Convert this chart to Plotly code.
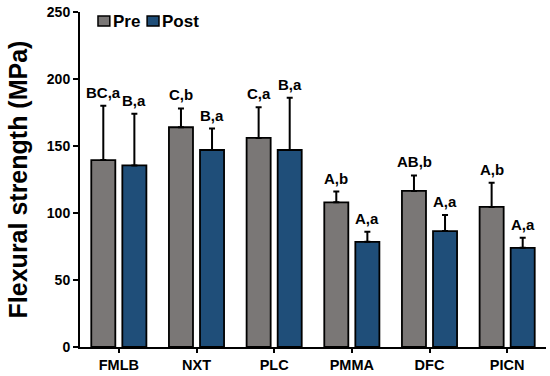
import plotly.graph_objects as go

categories = ["FMLB", "NXT", "PLC", "PMMA", "DFC", "PICN"]
pre_values = [139.5, 164, 156, 108, 116.5, 104.5]
pre_sd = [40.5, 14, 23, 8, 11.5, 18]
post_values = [135.5, 147, 147, 78.5, 86.5, 74]
post_sd = [38.5, 16, 39, 7.5, 12, 7.5]
pre_labels = ["BC,a", "C,b", "C,a", "A,b", "AB,b", "A,b"]
post_labels = ["B,a", "B,a", "B,a", "A,a", "A,a", "A,a"]
series_names = ["Pre", "Post"]
y_ticks = [0, 50, 100, 150, 200, 250]

PRE_COLOR = "#7a7776"
POST_COLOR = "#1f4e79"
FONT = "Liberation Sans, Arial, sans-serif"

fig = go.Figure()
fig.add_trace(go.Bar(
    name=series_names[0], x=categories, y=pre_values, showlegend=False,
    marker=dict(color=PRE_COLOR, line=dict(color="black", width=1.8)),
    error_y=dict(type="data", symmetric=False, array=pre_sd, arrayminus=[0]*len(pre_sd),
                 color="black", thickness=2, width=3),
))
fig.add_trace(go.Bar(
    name=series_names[1], x=categories, y=post_values, showlegend=False,
    marker=dict(color=POST_COLOR, line=dict(color="black", width=1.8)),
    error_y=dict(type="data", symmetric=False, array=post_sd, arrayminus=[0]*len(post_sd),
                 color="black", thickness=2, width=3),
))

for i, c in enumerate(categories):
    fig.add_annotation(x=c, y=pre_values[i] + pre_sd[i], text=pre_labels[i], showarrow=False,
                       xshift=-15.5, yshift=3, yanchor="bottom",
                       font=dict(family=FONT, size=15, color="black", weight="bold"))
    fig.add_annotation(x=c, y=post_values[i] + post_sd[i], text=post_labels[i], showarrow=False,
                       xshift=15.5, yshift=3, yanchor="bottom",
                       font=dict(family=FONT, size=15, color="black", weight="bold"))

# manual legend (squares + text)
leg = [(0.0386, 0.064, 0.066, series_names[0], PRE_COLOR),
       (0.144, 0.1695, 0.172, series_names[1], POST_COLOR)]
for x0, x1, tx, name, col in leg:
    fig.add_shape(type="rect", xref="paper", yref="paper", x0=x0, x1=x1, y0=0.958, y1=0.988,
                  fillcolor=col, line=dict(color="black", width=1.5))
    fig.add_annotation(xref="paper", yref="paper", x=tx, y=0.973, text=name, showarrow=False,
                       xanchor="left", yanchor="middle",
                       font=dict(family=FONT, size=17, color="black", weight="bold"))

fig.update_layout(
    width=550, height=376,
    margin=dict(l=80, r=4, t=12, b=29),
    paper_bgcolor="white", plot_bgcolor="white",
    barmode="group", bargap=0.2, bargroupgap=0.226,
    showlegend=False,
    font=dict(family=FONT, color="black"),
    xaxis=dict(showline=True, linecolor="black", linewidth=2,
               ticks="outside", ticklen=4, tickwidth=2, tickcolor="black",
               tickfont=dict(family=FONT, size=14.5, weight="bold")),
    yaxis=dict(range=[0, 250], tickvals=y_ticks, showline=True, linecolor="black", linewidth=2,
               ticks="outside", ticklen=5, tickwidth=2, tickcolor="black", showgrid=False,
               zeroline=False,
               tickfont=dict(family=FONT, size=14, weight="bold"),
               title=dict(text="Flexural strength (MPa)", standoff=12,
                          font=dict(family=FONT, size=25, weight="bold"))),
)

fig.write_html("out.html", config={"displayModeBar": False},
               post_script="document.body.style.margin='0';document.body.style.overflow='hidden';")
